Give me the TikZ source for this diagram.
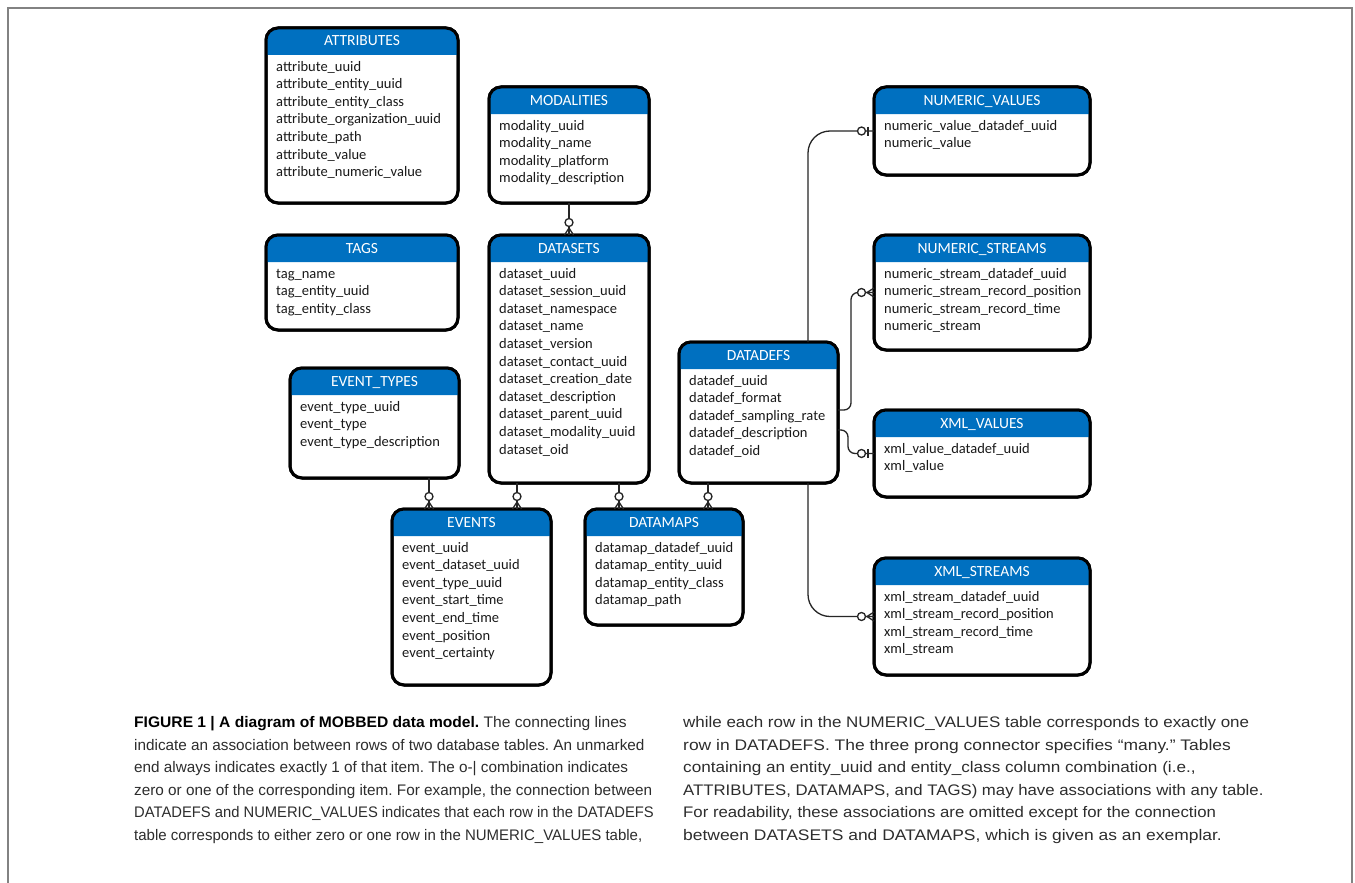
\documentclass[tikz,border=0pt]{standalone}
\usepackage{fontspec}
\usepackage{graphicx}
\setmainfont{Carlito}
\newfontfamily\capfont{Liberation Sans}
\usetikzlibrary{calc}
\definecolor{hdrblue}{RGB}{0,112,192}
\definecolor{captxt}{RGB}{45,45,45}
\definecolor{framegray}{RGB}{130,130,130}
\frenchspacing

\tikzset{
  tblbox/.style={draw=black, line width=3pt, rounded corners=12pt, fill=white, inner sep=0pt, outer sep=0pt},
  tblborder/.style={draw=black, line width=3pt, rounded corners=12pt},
  hdrtext/.style={text=white, font=\fontsize{15.5}{18}\selectfont, inner sep=0pt, anchor=base},
  rowtext/.style={text=black!90, font=\fontsize{14.5}{17.6}\selectfont, inner sep=0pt, anchor=base west},
  conn/.style={draw=black!85, line width=1.3pt},
  capline/.style={font=\capfont\fontsize{15.3}{22}\selectfont, text=captxt, inner sep=0pt, anchor=base west},
}

\newcommand{\mkTable}[7]{%
  \node[tblbox, minimum width={(#4-#2)*1pt}, minimum height={(#5-#3)*1pt}] (#1) at ({(#2+#4)/2},{(#3+#5)/2}) {};
  \fill[hdrblue] ([yshift=-27pt]#1.north west) [rounded corners=12pt] -- (#1.north west) -- (#1.north east) [sharp corners] -- ([yshift=-27pt]#1.north east) -- cycle;
  \draw[tblborder] (#1.north west) rectangle (#1.south east);
  \node[hdrtext] at ([yshift=-18pt]#1.north) {#6};
  \foreach \r [count=\i from 0] in {#7} {\node[rowtext] at ([xshift=10pt,yshift={-43pt-\i*17.6pt}]#1.north west) {\r};}
}
\newcommand{\zmV}[1]{%
  \draw[conn] ($(#1)+(-4.5,0)$) -- ($(#1)+(0,-7)$) -- ($(#1)+(4.5,0)$);
  \draw[conn, fill=white] ($(#1)+(0,-12.5)$) circle[radius=4pt];
}
\newcommand{\zmH}[1]{%
  \draw[conn] ($(#1)+(0,-4.5)$) -- ($(#1)+(-7,0)$) -- ($(#1)+(0,4.5)$);
  \draw[conn, fill=white] ($(#1)+(-12.5,0)$) circle[radius=4pt];
}
\newcommand{\zoH}[1]{%
  \draw[conn] ($(#1)+(-6,-4.5)$) -- ($(#1)+(-6,4.5)$);
  \draw[conn, fill=white] ($(#1)+(-12.5,0)$) circle[radius=4pt];
}
\newcommand{\capLine}[5]{\node[capline] (#1) at (#2,#3) {\scalebox{#4}[1]{#5}};}

\begin{document}
\begin{tikzpicture}[x=1pt,y=-1pt]
\useasboundingbox (0,0) rectangle (1355,883);
\fill[white] (0,0) rectangle (1355,883);
\draw[framegray, line width=1.5pt] (8,883) -- (8,8) -- (1352,8) -- (1352,883);

\mkTable{attributes}{266}{28}{458}{203}{ATTRIBUTES}{attribute\_uuid, attribute\_entity\_uuid, attribute\_entity\_class, attribute\_organization\_uuid, attribute\_path, attribute\_value, attribute\_numeric\_value}
\mkTable{modalities}{489}{87}{649}{203}{MODALITIES}{modality\_uuid, modality\_name, modality\_platform, modality\_description}
\mkTable{tags}{266}{235}{458}{330}{TAGS}{tag\_name, tag\_entity\_uuid, tag\_entity\_class}
\mkTable{datasets}{489}{235}{649}{483}{DATASETS}{dataset\_uuid, dataset\_session\_uuid, dataset\_namespace, dataset\_name, dataset\_version, dataset\_contact\_uuid, dataset\_creation\_date, dataset\_description, dataset\_parent\_uuid, dataset\_modality\_uuid, dataset\_oid}
\mkTable{eventtypes}{290}{368}{459}{478}{EVENT\_TYPES}{event\_type\_uuid, event\_type, event\_type\_description}
\mkTable{events}{392}{509}{551}{685}{EVENTS}{event\_uuid, event\_dataset\_uuid, event\_type\_uuid, event\_start\_time, event\_end\_time, event\_position, event\_certainty}
\mkTable{datamaps}{585}{509}{743}{625}{DATAMAPS}{datamap\_datadef\_uuid, datamap\_entity\_uuid, datamap\_entity\_class, datamap\_path}
\mkTable{datadefs}{679}{342}{838}{483}{DATADEFS}{datadef\_uuid, datadef\_format, datadef\_sampling\_rate, datadef\_description, datadef\_oid}
\mkTable{numvals}{874}{87}{1090}{175}{NUMERIC\_VALUES}{numeric\_value\_datadef\_uuid, numeric\_value}
\mkTable{numstreams}{874}{235}{1090}{350}{NUMERIC\_STREAMS}{numeric\_stream\_datadef\_uuid, numeric\_stream\_record\_position, numeric\_stream\_record\_time, numeric\_stream}
\mkTable{xmlvals}{874}{410}{1090}{497}{XML\_VALUES}{xml\_value\_datadef\_uuid, xml\_value}
\mkTable{xmlstreams}{874}{558}{1090}{675}{XML\_STREAMS}{xml\_stream\_datadef\_uuid, xml\_stream\_record\_position, xml\_stream\_record\_time, xml\_stream}

% connectors
\draw[conn] (modalities.south) -- (datasets.north);
\zmV{datasets.north}
\coordinate (p1) at ([xshift=37pt]events.north west);
\draw[conn] (eventtypes.south -| p1) -- (p1);
\zmV{p1}
\coordinate (p2) at ([xshift=125pt]events.north west);
\draw[conn] (datasets.south -| p2) -- (p2);
\zmV{p2}
\coordinate (p3) at ([xshift=34pt]datamaps.north west);
\draw[conn] (datasets.south -| p3) -- (p3);
\zmV{p3}
\coordinate (p4) at ([xshift=123pt]datamaps.north west);
\draw[conn] (datadefs.south -| p4) -- (p4);
\zmV{p4}

\draw[conn, rounded corners=22pt] ([xshift=129pt]datadefs.north west) |- (numvals.west);
\zoH{numvals.west}
\draw[conn, rounded corners=7pt] ([yshift=-68pt]datadefs.north east) -- ++(13,0) |- (numstreams.west);
\zmH{numstreams.west}
\draw[conn, rounded corners=7pt] ([yshift=-88pt]datadefs.north east) -- ++(10,0) |- (xmlvals.west);
\zoH{xmlvals.west}
\draw[conn, rounded corners=22pt] ([xshift=129pt]datadefs.south west) |- (xmlstreams.west);
\zmH{xmlstreams.west}

% caption
\capLine{cl1}{134}{727.5}{1.02}{{\color{black}\bfseries FIGURE 1 | A diagram of MOBBED data model.} The connecting lines}
\capLine{cl2}{134}{750}{1.0}{indicate an association between rows of two database tables. An unmarked}
\capLine{cl3}{134}{772.5}{1.0}{end always indicates exactly 1 of that item. The o-| combination indicates}
\capLine{cl4}{134}{795}{1.0}{zero or one of the corresponding item. For example, the connection between}
\capLine{cl5}{134}{817.5}{0.965}{DATADEFS and NUMERIC\_VALUES indicates that each row in the DATADEFS}
\capLine{cl6}{134}{840}{0.98}{table corresponds to either zero or one row in the NUMERIC\_VALUES table,}
\capLine{cr1}{683}{727.5}{1.108}{while each row in the NUMERIC\_VALUES table corresponds to exactly one}
\capLine{cr2}{683}{750}{1.14}{row in DATADEFS. The three prong connector specifies “many.” Tables}
\capLine{cr3}{683}{772.5}{1.12}{containing an entity\_uuid and entity\_class column combination (i.e.,}
\capLine{cr4}{683}{795}{1.096}{ATTRIBUTES, DATAMAPS, and TAGS) may have associations with any table.}
\capLine{cr5}{683}{817.5}{1.096}{For readability, these associations are omitted except for the connection}
\capLine{cr6}{683}{840}{1.14}{between DATASETS and DATAMAPS, which is given as an exemplar.}
\end{tikzpicture}
\end{document}
